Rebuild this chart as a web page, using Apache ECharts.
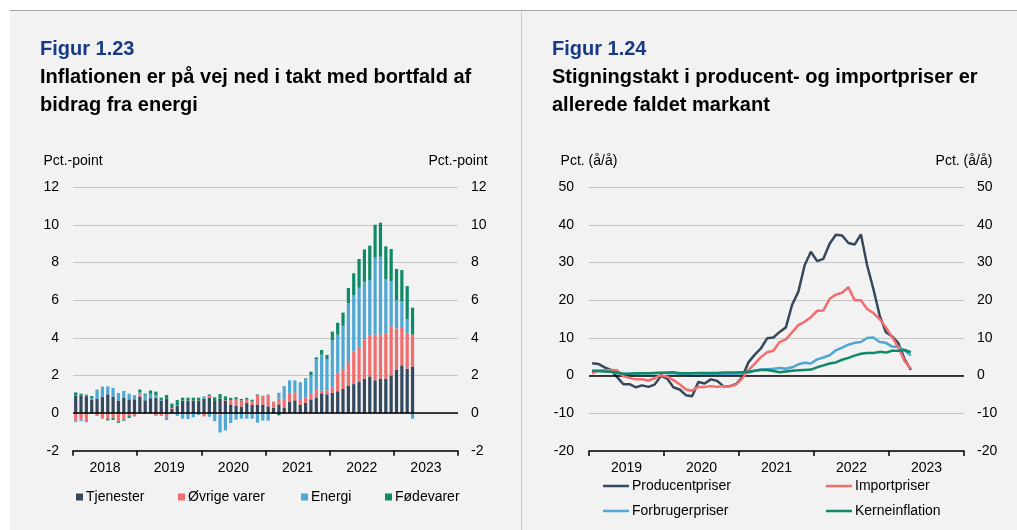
<!DOCTYPE html>
<html><head><meta charset="utf-8">
<script src="https://cdn.jsdelivr.net/npm/echarts@6/dist/echarts.min.js"></script>
<style>html,body{margin:0;padding:0;background:#fff}#c{width:1017px;height:530px}</style>
</head><body><div id="c"></div>
<script>
// ---------- Figur 1.23 data (monthly, Jan 2018 - Apr 2023) ----------
const yearsLeft = ['2018','2019','2020','2021','2022','2023'];
const tjenester = [0.93,0.93,0.90,0.70,0.76,0.85,1.00,0.88,0.67,0.80,0.73,0.73,
  0.88,0.68,0.79,0.82,0.67,0.76,0.23,0.40,0.64,0.64,0.64,0.64,
  0.76,0.82,0.64,0.76,0.67,0.46,0.40,0.35,0.53,0.44,0.46,0.44,
  0.36,0.28,0.46,0.30,0.62,0.68,0.43,0.54,0.73,0.80,1.05,1.00,
  1.07,1.16,1.28,1.44,1.54,1.65,1.83,1.95,1.74,1.83,1.83,2.00,
  2.32,2.54,2.36,2.48];
const ovrigeVarer = [-0.40,-0.35,-0.48,-0.05,-0.15,-0.30,-0.30,-0.27,-0.45,-0.35,-0.16,-0.18,
  0.12,-0.05,-0.02,-0.15,-0.15,-0.20,0.04,0.02,0.02,0.02,0.02,0.02,
  -0.18,0.10,-0.03,-0.08,0.02,0.23,0.32,0.32,0.18,0.18,0.48,0.46,
  0.60,0.30,0.30,0.46,0.44,0.42,0.27,0.29,0.28,0.44,0.14,0.21,
  0.33,0.98,1.07,1.33,1.73,1.86,2.09,2.18,2.43,2.35,2.39,2.61,
  2.17,2.03,1.86,1.69];
const energi = [-0.08,-0.08,0.03,0.10,0.44,0.53,0.42,0.46,0.40,0.38,0.30,0.20,
  0.10,0.27,0.23,0.14,0.03,-0.17,-0.05,-0.15,-0.30,-0.32,-0.22,-0.10,
  0.10,-0.20,-0.40,-0.95,-0.92,-0.53,-0.35,-0.30,-0.30,-0.30,-0.51,-0.40,
  -0.40,-0.02,0.32,0.67,0.68,0.64,0.88,0.95,1.01,1.61,1.91,1.64,
  2.45,2.03,2.29,3.07,3.00,3.15,3.06,2.94,4.09,4.13,2.90,2.41,
  1.52,1.38,0.78,-0.30];
const fodevarer = [0.17,0.10,0.05,0.10,0.04,0.02,-0.09,-0.10,-0.07,-0.06,-0.10,0.02,
  0.15,0.08,0.18,0.18,0.12,0.20,0.23,0.27,0.16,0.16,0.16,0.16,
  0.02,0.07,0.20,0.25,0.20,0.12,0.12,0.08,0.10,0.09,0.05,0.02,
  0.02,0.02,-0.12,0.01,0.00,0.00,0.05,0.06,0.18,0.11,0.25,0.24,
  0.48,0.63,0.70,0.81,1.16,1.53,1.72,1.83,1.75,1.81,1.74,1.70,
  1.65,1.65,1.75,1.43];
const leftTicks = [-2,0,2,4,6,8,10,12];

// ---------- Figur 1.24 data (monthly, Jan 2019 - Apr 2023) ----------
const yearsRight = ['2019','2020','2021','2022','2023'];
const producentpriser = [3.3,3.1,2.2,1.5,-0.4,-2.3,-2.3,-3.1,-2.6,-3.0,-2.4,-0.1,
  -0.8,-3.1,-3.7,-5.2,-5.5,-1.7,-2.1,-1.0,-1.4,-2.8,-2.8,-2.3,
  -0.5,3.5,5.5,7.2,9.9,10.1,11.6,12.8,18.8,22.3,29.3,32.9,
  30.4,31.0,35.0,37.4,37.2,35.2,34.8,37.5,29.3,23.0,16.0,11.5,
  10.4,8.6,4.3,1.5];
const importpriser = [0.6,1.3,1.4,1.5,1.4,-0.2,-0.6,-1.0,-1.0,-1.3,-0.7,0.1,
  -0.3,-1.2,-2.3,-3.7,-4.0,-3.0,-3.0,-2.8,-3.0,-2.8,-2.9,-2.4,
  -0.8,1.4,3.1,4.9,6.2,6.6,8.9,9.6,11.5,13.4,14.3,15.5,
  17.2,17.3,20.4,21.5,22.0,23.5,20.0,20.0,17.7,16.6,15.0,12.8,
  10.2,7.5,3.8,1.8];
const forbrugerpriser = [1.3,1.2,1.3,1.0,0.6,0.4,0.5,0.4,0.6,0.6,0.6,0.8,
  0.6,0.6,0.4,0.3,0.0,0.0,0.3,0.4,0.4,0.5,0.3,0.4,
  0.6,0.8,1.3,1.6,1.7,1.8,2.0,1.8,2.2,3.0,3.4,3.2,
  4.3,4.8,5.4,6.7,7.4,8.2,8.7,8.9,10.0,10.1,8.9,8.7,
  7.7,7.6,6.7,5.3];
const kerneinflation = [1.3,1.2,1.1,1.0,0.8,0.5,0.5,0.6,0.6,0.6,0.7,0.7,
  0.8,0.9,0.6,0.6,0.6,0.7,0.7,0.7,0.7,0.8,0.8,0.8,
  0.9,1.0,1.3,1.5,1.5,1.2,0.9,1.1,1.3,1.4,1.5,1.6,
  2.2,2.7,3.2,3.5,4.2,4.7,5.3,5.8,6.0,6.0,6.3,6.1,
  6.6,6.6,6.8,6.2];
const rightTicks = [-20,-10,0,10,20,30,40,50];

// month categories
function months(years){const m=[];years.forEach(y=>{for(let i=1;i<=12;i++)m.push(y+'-'+(i<10?'0':'')+i);});return m;}
const monthsLeft = months(yearsLeft);
const monthsRight = months(yearsRight);

const FONT = '"Liberation Sans", Arial, sans-serif';
const C_DARK='#34495e', C_RED='#f26d6d', C_BLUE='#4ea7d4', C_GREEN='#0e8a68', C_TITLE='#173a88';

const chart = echarts.init(document.getElementById('c'), null, {renderer:'canvas'});
const lbl = {fontSize:14, color:'#000', fontFamily:FONT};
function yAx(grid, pos, min, max, itv, name, showSplit, margin){
  return {type:'value', gridIndex:grid, position:pos, min:min, max:max, interval:itv,
    name:name, nameLocation:'end', nameGap:19, nameTextStyle:{fontSize:14,color:'#000',fontFamily:FONT},
    axisLine:{show:false}, axisTick:{show:false},
    axisLabel:Object.assign({margin:margin}, lbl),
    splitLine:{show:showSplit, lineStyle:{color:'#c4c4c4', width:1}}};
}
function yearAxis(grid, cats){
  return {type:'category', gridIndex:grid, data:cats, position:'bottom', boundaryGap:true,
    axisLine:{show:true, onZero:false, lineStyle:{color:'#000', width:1.5}},
    axisTick:{show:true, length:5, lineStyle:{color:'#000', width:1.5}},
    axisLabel:Object.assign({margin:10}, lbl), splitLine:{show:false}};
}
function monthAxis(grid, cats){
  return {type:'category', gridIndex:grid, data:cats, position:'bottom', boundaryGap:true,
    axisLine:{show:false}, axisTick:{show:false}, axisLabel:{show:false}, splitLine:{show:false}};
}
const zeroLine = {silent:true, symbol:'none', label:{show:false}, animation:false,
  lineStyle:{color:'#000', width:1.5, type:'solid'}, data:[{yAxis:0}]};

function barSeries(name, data, color, first){
  const s = {name:name, type:'bar', xAxisIndex:1, yAxisIndex:0, stack:'infl', data:data,
    barWidth:3.2, itemStyle:{color:color}, z:2};
  if(first) s.markLine = zeroLine;
  return s;
}
function lineSeries(name, data, color, z, first){
  const s = {name:name, type:'line', xAxisIndex:3, yAxisIndex:2, data:data, showSymbol:false, symbol:'none',
    lineStyle:{color:color, width:2.5}, itemStyle:{color:color}, z:z};
  if(first) s.markLine = zeroLine;
  return s;
}
function legendItem(name, left, top, kind){
  const l = {data:[name], left:left, top:top, padding:0, itemGap:0, selectedMode:false, icon:'rect',
    textStyle:{fontSize:14, color:'#000', fontFamily:FONT, padding:[0,0,0,-2]}};
  if(kind==='bar'){ l.itemWidth=7; l.itemHeight=7; }
  else { l.itemWidth=26; l.itemHeight=2.5; }
  return l;
}
function txt(x, y, s, color){
  return {type:'text', left:x, top:y, style:{text:s, fill:color, font:'bold 20px '+FONT}};
}

chart.setOption({
  animation:false,
  backgroundColor:'#f2f2f2',
  textStyle:{fontFamily:FONT},
  graphic:[
    {type:'rect', shape:{x:0,y:0,width:1017,height:10}, style:{fill:'#fff'}, z:-1},
    {type:'rect', shape:{x:0,y:0,width:10,height:530}, style:{fill:'#fff'}, z:-1},
    {type:'line', shape:{x1:10,y1:10.5,x2:1017,y2:10.5}, style:{stroke:'#a6a6a6', lineWidth:1}},
    {type:'line', shape:{x1:521.5,y1:11,x2:521.5,y2:530}, style:{stroke:'#c8c8c8', lineWidth:1}},
    txt(40, 39, 'Figur 1.23', C_TITLE),
    txt(40, 67, 'Inflationen er på vej ned i takt med bortfald af', '#000'),
    txt(40, 95, 'bidrag fra energi', '#000'),
    txt(552, 39, 'Figur 1.24', C_TITLE),
    txt(552, 67, 'Stigningstakt i producent- og importpriser er', '#000'),
    txt(552, 95, 'allerede faldet markant', '#000')
  ],
  grid:[
    {left:73, top:187.3, width:385, height:263.4, containLabel:false},
    {left:589, top:187.3, width:375, height:263.6, containLabel:false}
  ],
  xAxis:[ yearAxis(0, yearsLeft), monthAxis(0, monthsLeft), yearAxis(1, yearsRight), monthAxis(1, monthsRight) ],
  yAxis:[
    yAx(0,'left',leftTicks[0],leftTicks[leftTicks.length-1],2,'Pct.-point',true,14),
    yAx(0,'right',leftTicks[0],leftTicks[leftTicks.length-1],2,'Pct.-point',false,13),
    yAx(1,'left',rightTicks[0],rightTicks[rightTicks.length-1],10,'Pct. (å/å)',true,15),
    yAx(1,'right',rightTicks[0],rightTicks[rightTicks.length-1],10,'Pct. (å/å)',false,13)
  ],
  legend:[
    legendItem('Tjenester', 76, 490, 'bar'),
    legendItem('Øvrige varer', 178, 490, 'bar'),
    legendItem('Energi', 301, 490, 'bar'),
    legendItem('Fødevarer', 385, 490, 'bar'),
    legendItem('Producentpriser', 603, 479, 'line'),
    legendItem('Importpriser', 826, 479, 'line'),
    legendItem('Forbrugerpriser', 603, 504, 'line'),
    legendItem('Kerneinflation', 826, 504, 'line')
  ],
  series:[
    barSeries('Tjenester', tjenester, C_DARK, true),
    barSeries('Øvrige varer', ovrigeVarer, C_RED, false),
    barSeries('Energi', energi, C_BLUE, false),
    barSeries('Fødevarer', fodevarer, C_GREEN, false),
    lineSeries('Producentpriser', producentpriser, C_DARK, 3, true),
    lineSeries('Importpriser', importpriser, C_RED, 5, false),
    lineSeries('Forbrugerpriser', forbrugerpriser, C_BLUE, 4, false),
    lineSeries('Kerneinflation', kerneinflation, C_GREEN, 6, false)
  ]
});
</script></body></html>
